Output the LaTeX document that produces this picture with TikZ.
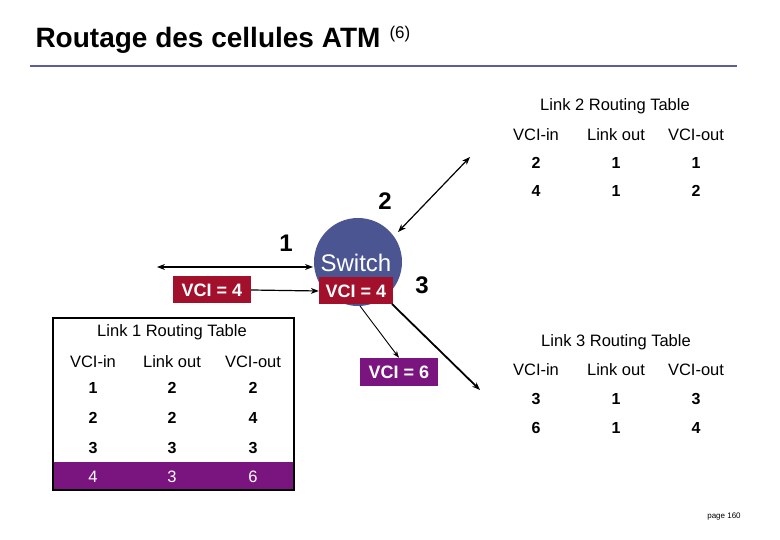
\documentclass[tikz,border=0pt]{standalone}
\usepackage{fontspec}
\setmainfont{Liberation Sans}
\usetikzlibrary{arrows.meta}
\definecolor{sw}{HTML}{4B5591}
\definecolor{vred}{HTML}{A3102B}
\definecolor{vpur}{HTML}{7A1580}
\definecolor{rule}{HTML}{5A5F9A}
\begin{document}
\begin{tikzpicture}[x=1pt,y=-1pt,
  vbox/.style={fill=vred,text=white,font=\fontsize{18}{18}\selectfont\bfseries,minimum width=76,minimum height=27,inner sep=0},
  hd/.style={font=\fontsize{16.5}{16.5}\selectfont,anchor=base,yshift=-6},
  nb/.style={font=\fontsize{16}{16}\selectfont\bfseries,anchor=base,yshift=-6},
  lab/.style={font=\fontsize{24}{24}\selectfont\bfseries},
  arr/.style={-{Stealth[length=8,width=6]},line width=1.2},
  darr/.style={{Stealth[length=8,width=6]}-{Stealth[length=8,width=6]},line width=1.2}]
\useasboundingbox (0,0) rectangle (780,540);
\node[anchor=west,font=\fontsize{28}{28}\selectfont\bfseries] (title) at (32,40) {Routage des cellules ATM};
\node[anchor=west,font=\fontsize{17}{17}\selectfont] (six) at (386,34) {(6)};
\draw[rule,line width=2.5] (30,66) -- (737,66);
% switch
\node[circle,fill=sw,minimum size=88,inner sep=0] (sw) at (358,262) {};
\node[text=white,font=\fontsize{24}{24}\selectfont] (swt) at (356,263) {Switch};
\node[vbox,minimum width=74] (v4r) at (356,291) {VCI = 4};
\node[vbox,minimum width=78] (v4l) at (212,290) {VCI = 4};
\node[vbox,fill=vpur,minimum width=78,minimum height=28] (v6) at (399,372) {VCI = 6};
\coordinate (l1a) at (157,267);
\coordinate (l1b) at (313,267);
\draw[darr] (l1a) -- (l1b);
\draw[arr] (v4l.east) -- (v4r.west);
\coordinate (l2a) at (398,232);
\coordinate (l2b) at (470,157);
\draw[darr] (l2a) -- (l2b);
\coordinate (l3a) at (392,304);
\coordinate (l3b) at (480,390);
\draw[arr,line width=1.8] (l3a) -- (l3b);
\coordinate (v6a) at (360,306);
\draw[-{Stealth[length=7,width=5]},line width=0.9] (v6a) -- (v6.north);
\node[lab] (n1) at (286,243) {1};
\node[lab] (n2) at (385,201) {2};
\node[lab] (n3) at (422,285) {3};
% link 2 table
\node[hd] (t2) at (615,105) {Link 2 Routing Table};
\foreach \x/\t in {536/VCI-in,616/Link out,696/VCI-out} \node[hd] at (\x,135) {\t};
\foreach \x/\t in {536/2,616/1,696/1} \node[nb] at (\x,163) {\t};
\foreach \x/\t in {536/4,616/1,696/2} \node[nb] at (\x,191) {\t};
% link 1 table
\fill[vpur] (53,462) rectangle (294,490);
\draw[line width=1.2] (53,318) rectangle (294,490);
\node[hd] (t1) at (172,331) {Link 1 Routing Table};
\foreach \x/\t in {93/VCI-in,172/Link out,253/VCI-out} \node[hd] at (\x,361) {\t};
\foreach \x/\t in {93/1,172/2,253/2} \node[nb] at (\x,388) {\t};
\foreach \x/\t in {93/2,172/2,253/4} \node[nb] at (\x,417) {\t};
\foreach \x/\t in {93/3,172/3,253/3} \node[nb] at (\x,447) {\t};
\foreach \x/\t in {93/4,172/3,253/6} \node[hd,text=white] at (\x,476) {\t};
% link 3 table
\node[hd] (t3) at (616,341) {Link 3 Routing Table};
\foreach \x/\t in {536/VCI-in,616/Link out,696/VCI-out} \node[hd] at (\x,369) {\t};
\foreach \x/\t in {536/3,616/1,696/3} \node[nb] at (\x,398) {\t};
\foreach \x/\t in {536/6,616/1,696/4} \node[nb] at (\x,427) {\t};
\node[font=\fontsize{8}{8}\selectfont] (pg) at (724,517) {page 160};
\end{tikzpicture}
\end{document}
